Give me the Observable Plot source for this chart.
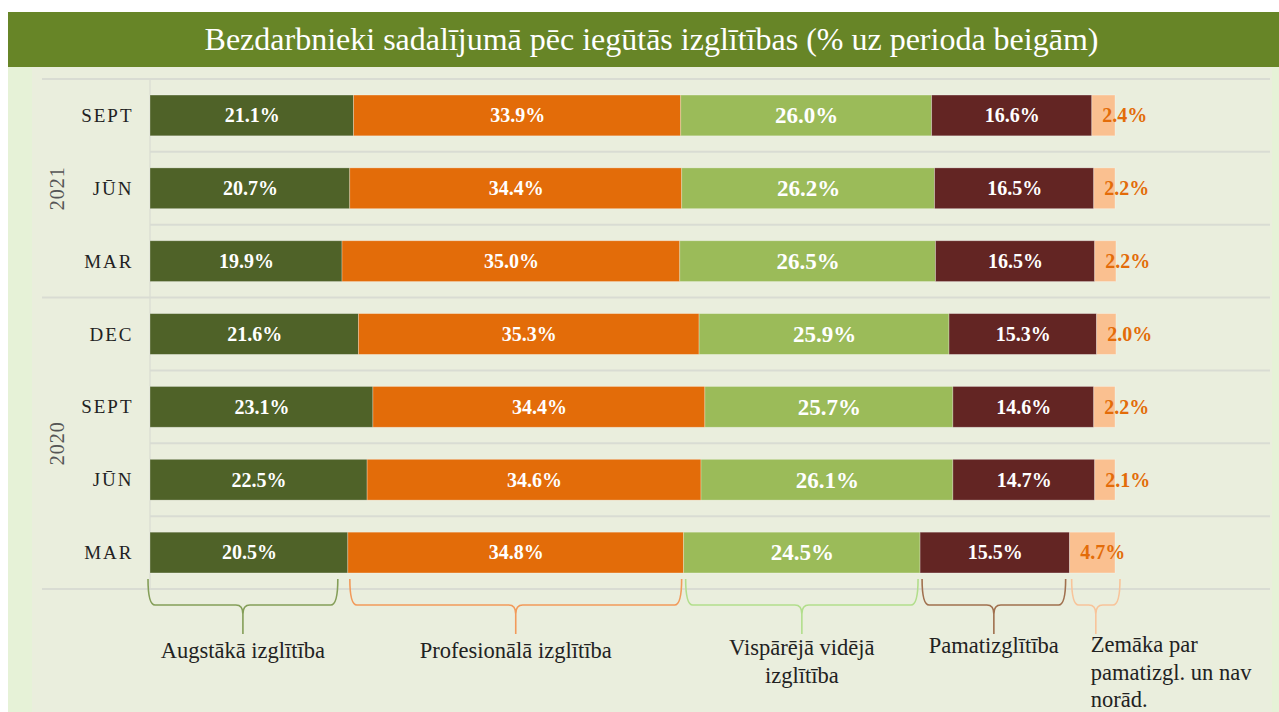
<!DOCTYPE html>
<html><head><meta charset="utf-8">
<script src="https://cdn.jsdelivr.net/npm/d3@7"></script>
<script src="https://cdn.jsdelivr.net/npm/@observablehq/plot@0.6"></script>
<style>
body{margin:0;background:#fff;width:1279px;height:712px;overflow:hidden;position:relative;font-family:"Liberation Serif","Times New Roman",serif}
#title{position:absolute;left:8px;top:12px;width:1271px;height:55px;box-sizing:border-box;padding-left:16px;background:#678527;color:#fff;font-size:32px;line-height:55px;text-align:center;white-space:nowrap}
#panel{position:absolute;left:8px;top:67px;width:1271px;height:645px;background:#EAEEDD}
#lstripe{position:absolute;left:8px;top:67px;width:24px;height:645px;background:#E6F2D7}
#rstripe{position:absolute;left:1272px;top:67px;width:7px;height:645px;background:#E6F2D7}
#chart{position:absolute;left:0;top:67px}
</style></head>
<body>
<div id="title">Bezdarbnieki sadalījumā pēc iegūtās izglītības (% uz perioda beigām)</div>
<div id="panel"></div><div id="lstripe"></div><div id="rstripe"></div>
<div id="chart"></div>
<script>
// ---- data ----
const years = ["2021","2021","2021","2020","2020","2020","2020"];
const months = ["SEPT","JŪN","MAR","DEC","SEPT","JŪN","MAR"];
const categories = ["Augstākā izglītība","Profesionālā izglītība","Vispārējā vidējā izglītība","Pamatizglītība","Zemāka par pamatizgl. un nav norād."];
const augstaka      = [21.1,20.7,19.9,21.6,23.1,22.5,20.5];
const profesionala  = [33.9,34.4,35.0,35.3,34.4,34.6,34.8];
const visparejaVid  = [26.0,26.2,26.5,25.9,25.7,26.1,24.5];
const pamat         = [16.6,16.5,16.5,15.3,14.6,14.7,15.5];
const zemaka        = [2.4,2.2,2.2,2.0,2.2,2.1,4.7];
const legendLines = [["Augstākā izglītība"],["Profesionālā izglītība"],["Vispārējā vidējā","izglītība"],["Pamatizglītība"],["Zemāka par","pamatizgl. un nav","norād."]];
const colors = ["#4F6228","#E36C09","#9BBB59","#632523","#FAC090"];
const braceColors = ["#849E58","#F29A5A","#B2DE8C","#A0704E","#F8C49A"];

const series = [augstaka, profesionala, visparejaVid, pamat, zemaka];
const keys = months.map((m,i) => years[i] + " " + m);
const data = [];
categories.forEach((c,ci) => series[ci].forEach((v,i) => data.push({key: keys[i], cat: c, value: v})));
const fmt = v => v.toFixed(1) + "%";
const lastCat = categories[4], midCat = categories[2];

const plot = Plot.plot({
  width: 1279, height: 645,
  marginLeft: 150, marginRight: 164, marginTop: 12, marginBottom: 123,
  style: {background: "transparent", fontFamily: "'Liberation Serif', serif", overflow: "visible"},
  x: {domain: [0, 100], axis: null},
  y: {domain: keys, paddingInner: 0.44, paddingOuter: 0.22, round: false, label: null, axis: null},
  color: {domain: categories, range: colors},
  marks: [
    Plot.barX(data, Plot.stackX({x: "value", y: "key", fill: "cat", stroke: "#ffffff", strokeOpacity: 0.35, strokeWidth: 0.8})),
    Plot.text(data, Plot.stackX({x: "value", y: "key", z: "cat",
      text: d => (d.cat === lastCat || d.cat === midCat) ? "" : fmt(d.value),
      fill: "white", fontWeight: "bold", fontSize: 20})),
    Plot.text(data, Plot.stackX({x: "value", y: "key", z: "cat",
      text: d => d.cat === midCat ? fmt(d.value) : "",
      fill: "white", fontWeight: "bold", fontSize: 23})),
    Plot.text(data, Plot.stackX1({x: "value", y: "key", z: "cat",
      text: d => d.cat === lastCat ? fmt(d.value) : "",
      fill: "#E36C09", fontWeight: "bold", fontSize: 20, textAnchor: "start", dx: 10})),
    Plot.axisY({tickSize: 0, tickPadding: 17, tickFormat: k => k.split(" ")[1], fontSize: 19, fill: "#222"})
  ]
});
document.getElementById("chart").appendChild(plot);

// ---- annotations through the plot's scales ----
const svg = d3.select(plot);
const xs = plot.scale("x"), ys = plot.scale("y");
const gap = (ys.step - ys.bandwidth) / 2;
const rowTop = i => ys.apply(keys[i]) - gap;
const rowBottom = i => ys.apply(keys[i]) + ys.bandwidth + gap;
svg.selectAll("g[aria-label='y-axis tick label'] text").attr("letter-spacing", 2);

const gridG = svg.insert("g", ":first-child").attr("stroke", "#D9DCD3").attr("stroke-width", 2);
const x0 = xs.apply(0);
keys.forEach((k,i) => {
  const yearStart = i === 0 || years[i] !== years[i-1];
  gridG.append("line").attr("x1", yearStart ? 42 : x0).attr("x2", 1270).attr("y1", rowTop(i)).attr("y2", rowTop(i));
});
const yb = rowBottom(keys.length - 1);
gridG.append("line").attr("x1", 42).attr("x2", 1270).attr("y1", yb).attr("y2", yb);
gridG.append("line").attr("x1", x0).attr("x2", x0).attr("y1", rowTop(0)).attr("y2", yb).attr("stroke-width", 1.2);

// year labels
const yearList = Array.from(new Set(years));
yearList.forEach(yr => {
  const idx = years.map((y,i) => y === yr ? i : -1).filter(i => i >= 0);
  const cy = (rowTop(idx[0]) + rowBottom(idx[idx.length-1])) / 2;
  svg.append("text").attr("transform", `translate(57,${cy}) rotate(-90)`)
    .attr("text-anchor", "middle").attr("dominant-baseline", "central")
    .attr("font-size", 20).attr("letter-spacing", 1).attr("fill", "#555").text(yr);
});

// braces under the last row
const li = keys.length - 1;
const labelBase = [69, 69, 66, 64, 63];
const insetR = [10, 2, 2, 4, -5];
let cum = 0;
const bg = svg.append("g").attr("fill", "none").attr("stroke-width", 1.6);
series.forEach((s, ci) => {
  const a = xs.apply(cum), b = xs.apply(cum + s[li]);
  cum += s[li];
  const isLast = ci === series.length - 1;
  const x1 = a - (ci === 0 ? 2 : -2), x2 = b - insetR[ci], m = (x1 + x2) / 2;
  const yt = yb - 10, yh = yb + 16, yp = yb + 45;
  const r = Math.min(7, (x2 - x1) / 4);
  bg.append("path").attr("stroke", braceColors[ci])
    .attr("d", `M${x1},${yt} Q${x1},${yh} ${x1+r},${yh} L${m-r},${yh} Q${m},${yh} ${m},${yh+9} Q${m},${yh} ${m+r},${yh} L${x2-r},${yh} Q${x2},${yh} ${x2},${yt} M${m},${yh+9} L${m},${yp}`);
  const lines = legendLines[ci];
  const t = svg.append("text").attr("font-size", 22.5).attr("fill", "#222")
    .attr("text-anchor", isLast ? "start" : "middle");
  lines.forEach((ln, j) => {
    t.append("tspan").attr("x", isLast ? m - 5 : m).attr("y", yb + labelBase[ci] + j * 27.5).text(ln);
  });
});
</script>
</body></html>
